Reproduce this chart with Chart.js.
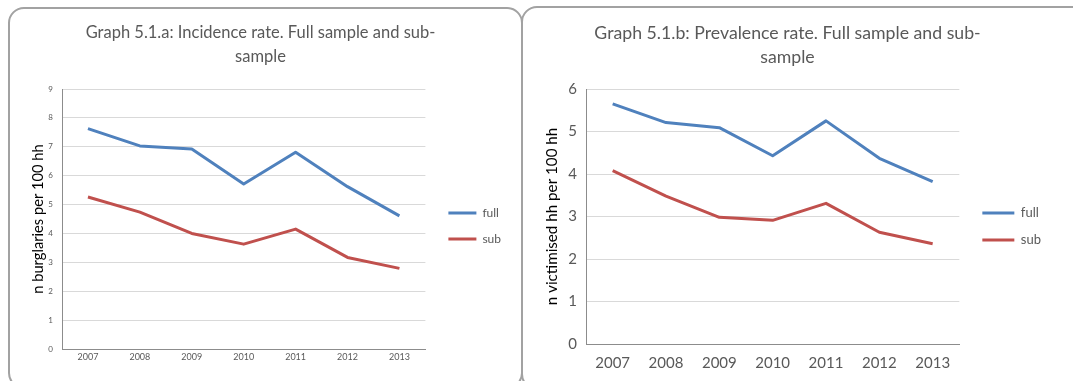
<!DOCTYPE html>
<html>
<head>
<meta charset="utf-8">
<script src="https://cdn.jsdelivr.net/npm/chart.js@4/dist/chart.umd.min.js"></script>
<style>
  html, body { margin: 0; padding: 0; background: #ffffff; overflow: hidden; }
  body { width: 1073px; height: 381px; position: relative; }
  .panel { position: absolute; border: 2px solid #a2a2a2; border-radius: 16px; box-sizing: border-box; }
  #panelA { left: 8px; top: 7px; width: 515px; height: 382px; }
  #panelB { left: 521px; top: 6px; width: 570px; height: 384px; }
  .holder { position: absolute; }
  #holderA { left: 10px; top: 9px; width: 504px; height: 370px; }
  #holderB { left: 524px; top: 8px; width: 527px; height: 373px; }
</style>
</head>
<body>
<div class="panel" id="panelA"></div>
<div class="panel" id="panelB"></div>
<div class="holder" id="holderA"><canvas id="chartA"></canvas></div>
<div class="holder" id="holderB"><canvas id="chartB"></canvas></div>
<script>
// years on the x axis, shared by both graphs
const years = ['2007', '2008', '2009', '2010', '2011', '2012', '2013'];

// Graph 5.1.a: incidence rate (n burglaries per 100 hh)
const incidenceFull = [7.63, 7.03, 6.92, 5.71, 6.81, 5.62, 4.61];
const incidenceSub = [5.26, 4.74, 4.00, 3.63, 4.15, 3.17, 2.79];

// Graph 5.1.b: prevalence rate (n victimised hh per 100 hh)
const prevalenceFull = [5.65, 5.21, 5.09, 4.43, 5.25, 4.37, 3.82];
const prevalenceSub = [4.08, 3.48, 2.98, 2.91, 3.31, 2.63, 2.36];

const FONT = 'Lato, "Open Sans", sans-serif';
const BLUE = '#4f81bd';
const RED = '#c0504d';

function makeChart(id, opts) {
    var ctx = document.getElementById(id).getContext('2d');
    var config = {
        type: 'line',
        data: {
            labels: years,
            datasets: [{
                label: 'full',
                data: opts.full,
                borderColor: BLUE,
                backgroundColor: BLUE,
                borderWidth: 3,
                pointRadius: 0,
                tension: 0,
                borderJoinStyle: 'round'
            }, {
                label: 'sub',
                data: opts.sub,
                borderColor: RED,
                backgroundColor: RED,
                borderWidth: 3,
                pointRadius: 0,
                tension: 0,
                borderJoinStyle: 'round'
            }]
        },
        options: {
            responsive: true,
            maintainAspectRatio: false,
            animation: false,
            layout: { padding: { left: 0, right: opts.padRight, top: 0, bottom: 0 } },
            plugins: {
                title: {
                    display: true,
                    text: opts.title,
                    color: '#595959',
                    font: { family: FONT, size: opts.titleSize, weight: 'normal', lineHeight: '24px' },
                    padding: { top: opts.titleTop, bottom: opts.titleBottom }
                },
                legend: {
                    display: true,
                    position: 'right',
                    // empty legend title only pushes the two entries down to mid-height
                    title: { display: true, text: ' ', font: { size: 10, lineHeight: '14px' }, padding: { top: 25, bottom: 25 } },
                    labels: {
                        usePointStyle: true,
                        pointStyle: 'line',
                        pointStyleWidth: opts.legendLine,
                        padding: 14,
                        color: '#595959',
                        font: { family: FONT, size: opts.legendSize }
                    }
                },
                tooltip: { enabled: false }
            },
            scales: {
                x: {
                    offset: true,
                    grid: { display: false, drawTicks: false, offset: true },
                    border: { display: true, color: '#8c8c8c', width: 1 },
                    ticks: { color: '#595959', font: { family: FONT, size: opts.xTickSize }, padding: opts.xTickPad, maxRotation: 0 },
                    afterFit: function (scale) { scale.height = opts.xHeight; }
                },
                y: {
                    min: 0,
                    max: opts.yMax,
                    grid: { color: '#d9d9d9', drawTicks: false },
                    border: { display: true, color: '#8c8c8c', width: 1 },
                    ticks: { stepSize: 1, color: '#595959', font: { family: FONT, size: opts.yTickSize }, padding: opts.yTickPad },
                    title: {
                        display: true,
                        text: opts.yTitle,
                        color: '#000000',
                        font: { family: FONT, size: opts.yTitleSize },
                        padding: { top: opts.yTitlePad, bottom: 0 }
                    },
                    afterFit: function (scale) { scale.width = opts.yWidth; }
                },
                gap: {
                    type: 'linear',
                    position: 'right',
                    display: true,
                    grid: { display: false, drawTicks: false },
                    border: { display: false },
                    ticks: { display: false },
                    afterFit: function (scale) { scale.width = 9; }
                }
            }
        }
    };
    return new Chart(ctx, config);
}

makeChart('chartA', {
    full: incidenceFull,
    sub: incidenceSub,
    title: ['Graph 5.1.a: Incidence rate. Full sample and sub-', 'sample'],
    titleSize: 16.5, titleTop: 12, titleBottom: 20,
    yTitle: 'n burglaries per 100 hh', yTitleSize: 14.7, yTitlePad: 19,
    yMax: 9, yTickSize: 8, yTickPad: 9, yWidth: 52,
    xTickSize: 9, xTickPad: 3, xHeight: 30,
    legendSize: 12, legendLine: 28, padRight: 3
});

makeChart('chartB', {
    full: prevalenceFull,
    sub: prevalenceSub,
    title: ['Graph 5.1.b: Prevalence rate. Full sample and sub-', 'sample'],
    titleSize: 17.7, titleTop: 13, titleBottom: 20,
    yTitle: 'n victimised hh per 100 hh', yTitleSize: 15.2, yTitlePad: 19,
    yMax: 6, yTickSize: 15, yTickPad: 9, yWidth: 62,
    xTickSize: 15, xTickPad: 10, xHeight: 37,
    legendSize: 13, legendLine: 32, padRight: 0
});
</script>
</body>
</html>
